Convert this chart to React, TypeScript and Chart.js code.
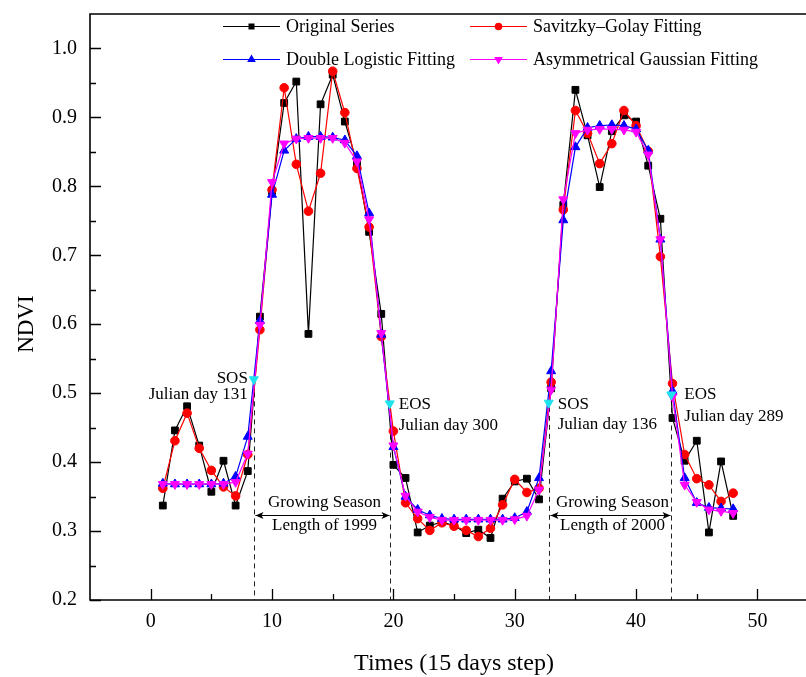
import React, { useEffect, useRef } from "react";
import { Chart, registerables } from "chart.js";

Chart.register(...registerables);

// ---------- data ----------
const times = [
  1, 2, 3, 4, 5, 6, 7, 8, 9, 10, 11, 12, 13, 14, 15, 16, 17, 18, 19, 20, 21, 22, 23, 24,
  25, 26, 27, 28, 29, 30, 31, 32, 33, 34, 35, 36, 37, 38, 39, 40, 41, 42, 43, 44, 45, 46, 47, 48,
];
const originalSeries = [
  0.337, 0.446, 0.481, 0.424, 0.357, 0.402, 0.337, 0.387, 0.611, 0.793, 0.921, 0.952,
  0.586, 0.919, 0.962, 0.894, 0.834, 0.734, 0.615, 0.396, 0.377, 0.298, 0.308, 0.313,
  0.308, 0.297, 0.302, 0.29, 0.347, 0.372, 0.376, 0.346, 0.507, 0.773, 0.94, 0.874,
  0.799, 0.88, 0.903, 0.894, 0.83, 0.753, 0.464, 0.402, 0.431, 0.298, 0.401, 0.322,
];
const savitzkyGolay = [
  0.362, 0.431, 0.471, 0.42, 0.388, 0.364, 0.351, 0.411, 0.592, 0.795, 0.943, 0.832,
  0.764, 0.819, 0.967, 0.907, 0.826, 0.741, 0.582, 0.445, 0.341, 0.318, 0.301, 0.312,
  0.307, 0.301, 0.292, 0.304, 0.338, 0.375, 0.356, 0.362, 0.516, 0.766, 0.91, 0.877,
  0.833, 0.862, 0.91, 0.888, 0.851, 0.698, 0.514, 0.411, 0.376, 0.367, 0.343, 0.355,
];
const doubleLogistic = [
  0.369, 0.368, 0.368, 0.368, 0.368, 0.369, 0.379, 0.437, 0.605, 0.788, 0.852, 0.869,
  0.872, 0.872, 0.871, 0.867, 0.844, 0.761, 0.585, 0.422, 0.35, 0.331, 0.323, 0.318,
  0.317, 0.317, 0.317, 0.317, 0.317, 0.319, 0.328, 0.377, 0.532, 0.751, 0.857, 0.885,
  0.888, 0.889, 0.888, 0.883, 0.852, 0.723, 0.503, 0.377, 0.341, 0.334, 0.333, 0.332,
];
const asymGaussian = [
  0.368, 0.368, 0.368, 0.368, 0.368, 0.368, 0.371, 0.412, 0.599, 0.806, 0.862, 0.869,
  0.87, 0.87, 0.87, 0.863, 0.836, 0.752, 0.587, 0.424, 0.351, 0.328, 0.32, 0.316,
  0.316, 0.316, 0.316, 0.316, 0.316, 0.317, 0.322, 0.36, 0.505, 0.781, 0.877, 0.882,
  0.883, 0.883, 0.882, 0.879, 0.846, 0.723, 0.495, 0.367, 0.342, 0.331, 0.329, 0.326,
];
const phenoX = [8.5, 19.7, 32.8, 42.9];
const phenoY = [0.52, 0.485, 0.486, 0.498];
const phenoNames = ["SOS", "EOS", "SOS", "EOS"];
const julianDays = ["Julian day 131", "Julian day 300", "Julian day 136", "Julian day 289"];
const seasonLengths = ["Length of 1999", "Length of 2000"];
const seriesNames = [
  "Original Series",
  "Savitzky\u2013Golay Fitting",
  "Double Logistic Fitting",
  "Asymmetrical Gaussian Fitting",
];
const xMajorTicks = [0, 10, 20, 30, 40, 50];
const xMinorTicks = [5, 15, 25, 35, 45];
const yMajorTicks = [0.2, 0.3, 0.4, 0.5, 0.6, 0.7, 0.8, 0.9, 1.0];
const yMinorTicks = [0.25, 0.35, 0.45, 0.55, 0.65, 0.75, 0.85, 0.95];

// ---------- styles ----------
const FONT = "'Liberation Serif', 'Times New Roman', serif";
const BLACK = "#000000";
const RED = "#FF0000";
const BLUE = "#0000FF";
const MAGENTA = "#FF00FF";
const CYAN = "#1EE3EE";

function drawMarker(ctx: CanvasRenderingContext2D, style: string, x: number, y: number, r: number, color: string) {
  ctx.save();
  ctx.fillStyle = color;
  ctx.beginPath();
  if (style === "rect") {
    ctx.rect(x - r, y - r, 2 * r, 2 * r);
  } else if (style === "circle") {
    ctx.arc(x, y, r, 0, Math.PI * 2);
  } else if (style === "up") {
    ctx.moveTo(x, y - r);
    ctx.lineTo(x + r * 0.87, y + r * 0.5);
    ctx.lineTo(x - r * 0.87, y + r * 0.5);
    ctx.closePath();
  } else {
    ctx.moveTo(x, y + r);
    ctx.lineTo(x + r * 0.87, y - r * 0.5);
    ctx.lineTo(x - r * 0.87, y - r * 0.5);
    ctx.closePath();
  }
  ctx.fill();
  ctx.restore();
}

const overlayPlugin = {
  id: "overlay",
  beforeDatasetsDraw(chart: any) {
    const { ctx, chartArea } = chart;
    const xs = chart.scales.x;
    const ys = chart.scales.y;
    ctx.save();
    ctx.strokeStyle = "#222";
    ctx.lineWidth = 1;
    ctx.setLineDash([5, 4]);
    phenoX.forEach((v, i) => {
      const px = Math.round(xs.getPixelForValue(v)) + 0.5;
      ctx.beginPath();
      ctx.moveTo(px, ys.getPixelForValue(phenoY[i]) + 4);
      ctx.lineTo(px, chartArea.bottom);
      ctx.stroke();
    });
    ctx.restore();
  },
  afterDraw(chart: any) {
    const { ctx, chartArea } = chart;
    const xs = chart.scales.x;
    const ys = chart.scales.y;
    const { left, right, top, bottom } = chartArea;
    ctx.save();
    // frame
    ctx.strokeStyle = "#000";
    ctx.lineWidth = 1.6;
    ctx.setLineDash([]);
    ctx.beginPath();
    ctx.moveTo(right, top);
    ctx.lineTo(left, top);
    ctx.lineTo(left, bottom);
    ctx.lineTo(right, bottom);
    ctx.stroke();
    // ticks (inward)
    ctx.lineWidth = 1.3;
    ctx.beginPath();
    xMajorTicks.forEach((v) => {
      const px = Math.round(xs.getPixelForValue(v)) + 0.5;
      ctx.moveTo(px, bottom);
      ctx.lineTo(px, bottom - 11);
    });
    xMinorTicks.forEach((v) => {
      const px = Math.round(xs.getPixelForValue(v)) + 0.5;
      ctx.moveTo(px, bottom);
      ctx.lineTo(px, bottom - 6);
    });
    yMajorTicks.forEach((v) => {
      const py = Math.round(ys.getPixelForValue(v)) + 0.5;
      ctx.moveTo(left, py);
      ctx.lineTo(left + 11, py);
    });
    yMinorTicks.forEach((v) => {
      const py = Math.round(ys.getPixelForValue(v)) + 0.5;
      ctx.moveTo(left, py);
      ctx.lineTo(left + 6, py);
    });
    ctx.stroke();

    // axis titles
    ctx.fillStyle = "#000";
    ctx.font = `24px ${FONT}`;
    ctx.textAlign = "center";
    ctx.textBaseline = "middle";
    ctx.fillText("Times (15 days step)", 454, 664);
    ctx.save();
    ctx.translate(27, 324);
    ctx.rotate(-Math.PI / 2);
    ctx.font = `23px ${FONT}`;
    ctx.fillText("NDVI", 0, 0);
    ctx.restore();

    // legend
    const legendItems = [
      { name: seriesNames[0], color: BLACK, style: "rect", r: 3, lx: 223, y: 26 },
      { name: seriesNames[1], color: RED, style: "circle", r: 3.8, lx: 470, y: 26 },
      { name: seriesNames[2], color: BLUE, style: "up", r: 5, lx: 223, y: 59 },
      { name: seriesNames[3], color: MAGENTA, style: "down", r: 5, lx: 470, y: 59 },
    ];
    ctx.font = `18px ${FONT}`;
    ctx.textAlign = "left";
    legendItems.forEach((it) => {
      ctx.strokeStyle = it.color;
      ctx.lineWidth = 1.2;
      ctx.beginPath();
      ctx.moveTo(it.lx, it.y + 0.5);
      ctx.lineTo(it.lx + 57, it.y + 0.5);
      ctx.stroke();
      drawMarker(ctx, it.style, it.lx + 28.5, it.y + 0.5, it.r, it.color);
      ctx.fillStyle = "#000";
      ctx.fillText(it.name, it.lx + 63, it.y + 1);
    });

    // SOS / EOS annotations
    ctx.font = `17px ${FONT}`;
    const ann = [
      { align: "right", dx: -6, dy1: -1, dy2: 15 },
      { align: "left", dx: 9, dy1: 1, dy2: 22 },
      { align: "left", dx: 9, dy1: 2, dy2: 22 },
      { align: "left", dx: 13, dy1: 0, dy2: 22 },
    ];
    phenoX.forEach((v, i) => {
      const px = xs.getPixelForValue(v);
      const py = ys.getPixelForValue(phenoY[i]);
      const a = ann[i];
      ctx.textAlign = a.align as CanvasTextAlign;
      ctx.fillText(phenoNames[i], px + a.dx, py + a.dy1);
      ctx.fillText(julianDays[i], px + a.dx, py + a.dy2);
    });

    // growing season arrows
    ctx.strokeStyle = "#000";
    ctx.lineWidth = 1;
    ctx.textAlign = "center";
    [0, 1].forEach((k) => {
      const x1 = Math.round(xs.getPixelForValue(phenoX[2 * k])) + 1.5;
      const x2 = Math.round(xs.getPixelForValue(phenoX[2 * k + 1])) - 0.5;
      const ay = 515.5;
      ctx.beginPath();
      ctx.moveTo(x1, ay);
      ctx.lineTo(x2, ay);
      ctx.stroke();
      ctx.fillStyle = "#000";
      ctx.beginPath();
      ctx.moveTo(x1, ay);
      ctx.lineTo(x1 + 8, ay - 3.5);
      ctx.lineTo(x1 + 6, ay);
      ctx.lineTo(x1 + 8, ay + 3.5);
      ctx.closePath();
      ctx.fill();
      ctx.beginPath();
      ctx.moveTo(x2, ay);
      ctx.lineTo(x2 - 8, ay - 3.5);
      ctx.lineTo(x2 - 6, ay);
      ctx.lineTo(x2 - 8, ay + 3.5);
      ctx.closePath();
      ctx.fill();
      const cx = (x1 + x2) / 2 + 2;
      ctx.fillText("Growing Season", cx, 503);
      ctx.fillText(seasonLengths[k], cx, 526);
    });
    ctx.restore();
  },
};

function series(ys: number[]) {
  return times.map((t, i) => ({ x: t, y: ys[i] }));
}

function zeroPadding(scale: any) {
  scale.paddingTop = 0;
  scale.paddingBottom = 0;
  scale.paddingLeft = 0;
  scale.paddingRight = 0;
}

export default function App() {
  const canvasRef = useRef<HTMLCanvasElement | null>(null);

  useEffect(() => {
    if (!canvasRef.current) return;
    const lineCommon = {
      borderWidth: 1.2,
      tension: 0,
      fill: false,
      pointBorderWidth: 1,
    };
    const chart = new Chart(canvasRef.current, {
      type: "line",
      data: {
        datasets: [
          {
            label: "SOS/EOS",
            data: phenoX.map((x, i) => ({ x, y: phenoY[i] })),
            showLine: false,
            pointStyle: "triangle",
            pointRotation: 180,
            pointRadius: 5.2,
            pointBorderWidth: 1,
            borderColor: CYAN,
            backgroundColor: CYAN,
          },
          {
            ...lineCommon,
            label: seriesNames[3],
            data: series(asymGaussian),
            borderColor: MAGENTA,
            backgroundColor: MAGENTA,
            pointStyle: "triangle",
            pointRotation: 180,
            pointRadius: 5.2,
          },
          {
            ...lineCommon,
            label: seriesNames[2],
            data: series(doubleLogistic),
            borderColor: BLUE,
            backgroundColor: BLUE,
            pointStyle: "triangle",
            pointRadius: 5.2,
          },
          {
            ...lineCommon,
            label: seriesNames[1],
            data: series(savitzkyGolay),
            borderColor: RED,
            backgroundColor: RED,
            pointStyle: "circle",
            pointRadius: 4.3,
          },
          {
            ...lineCommon,
            label: seriesNames[0],
            data: series(originalSeries),
            borderColor: BLACK,
            backgroundColor: BLACK,
            pointStyle: "rect",
            pointRadius: 4.8,
          },
        ],
      },
      options: {
        animation: false,
        responsive: false,
        devicePixelRatio: 1,
        layout: { autoPadding: false, padding: { top: 14, right: 0, left: 0, bottom: 0 } },
        plugins: {
          legend: { display: false },
          tooltip: { enabled: false },
        },
        scales: {
          x: {
            type: "linear",
            min: -5,
            max: 54,
            grid: { display: false, drawTicks: false },
            border: { display: false },
            afterBuildTicks: (scale: any) => {
              scale.ticks = xMajorTicks.map((v) => ({ value: v }));
            },
            afterFit: (scale: any) => {
              scale.height = 77;
              zeroPadding(scale);
            },
            ticks: {
              padding: 10,
              color: "#000",
              font: { family: FONT, size: 20 },
              maxRotation: 0,
              autoSkip: false,
              callback: (v: any) => String(v),
            },
          },
          y: {
            type: "linear",
            min: 0.2,
            max: 1.05,
            grid: { display: false, drawTicks: false },
            border: { display: false },
            afterBuildTicks: (scale: any) => {
              scale.ticks = yMajorTicks.map((v) => ({ value: v }));
            },
            afterFit: (scale: any) => {
              scale.width = 90;
              zeroPadding(scale);
            },
            ticks: {
              padding: 13,
              color: "#000",
              font: { family: FONT, size: 20 },
              autoSkip: false,
              callback: (v: any) => Number(v).toFixed(1),
            },
          },
        },
      },
      plugins: [overlayPlugin],
    } as any);
    return () => chart.destroy();
  }, []);

  return (
    <div
      style={{
        position: "fixed",
        left: 0,
        top: 0,
        width: 806,
        height: 677,
        overflow: "hidden",
        background: "#fff",
      }}
    >
      <canvas ref={canvasRef} width={806} height={677} style={{ display: "block" }} />
    </div>
  );
}
